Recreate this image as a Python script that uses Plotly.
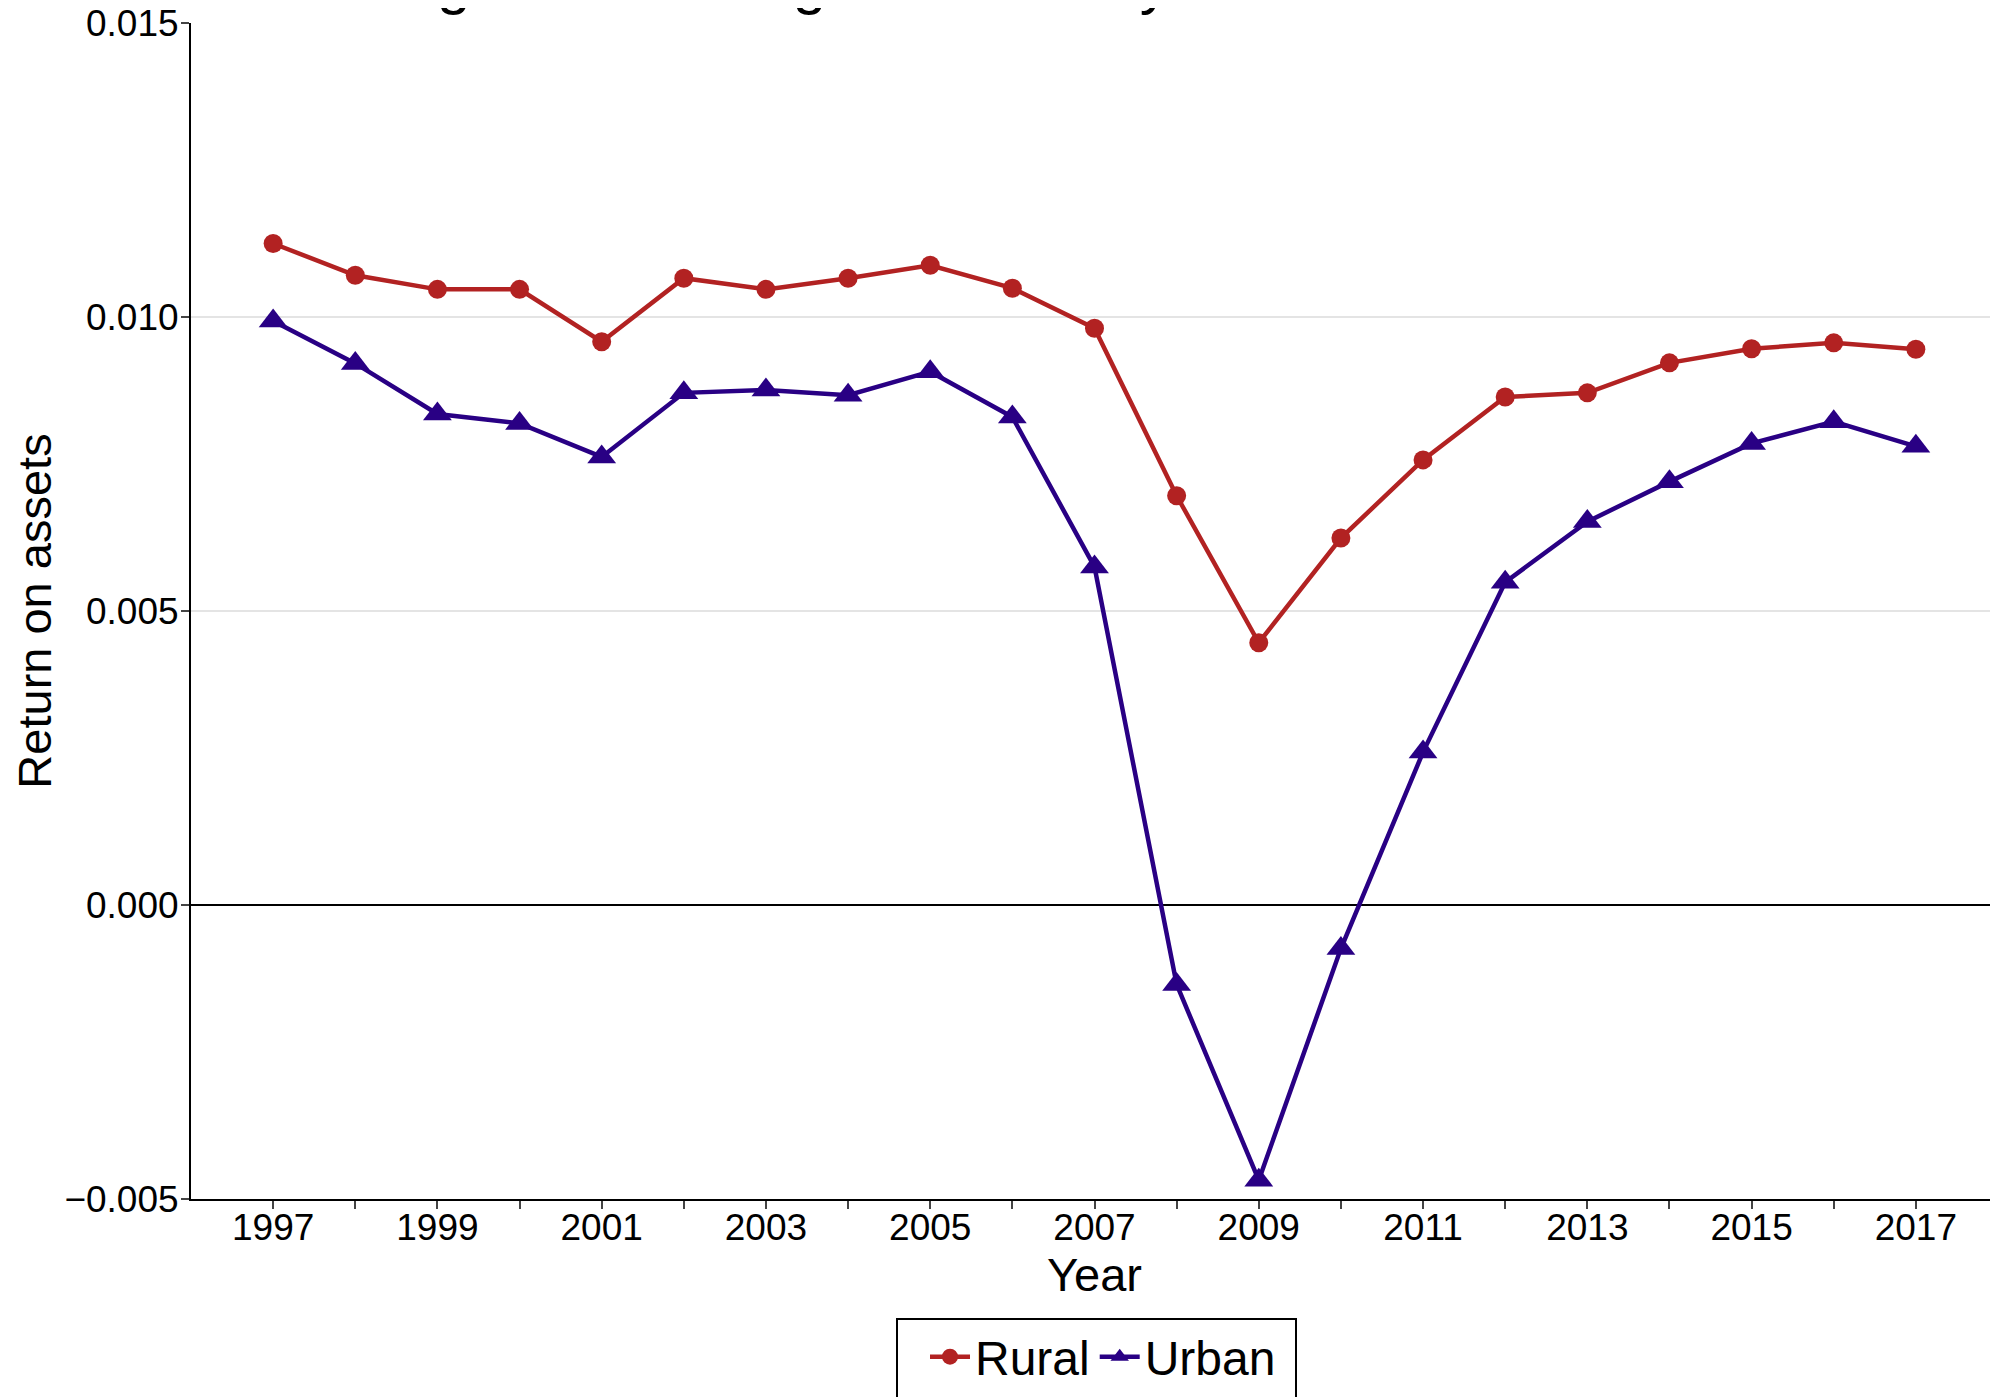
import plotly.graph_objects as go

years = list(range(1997, 2018))
rural = [0.01125, 0.01071, 0.01047, 0.01047, 0.00958, 0.01066, 0.01047, 0.01066, 0.01088, 0.01049,
         0.00981, 0.00696, 0.00446, 0.00624, 0.00757, 0.00864, 0.00871, 0.00922, 0.00946, 0.00956, 0.00945]
urban = [0.00993, 0.00921, 0.00835, 0.00819, 0.00762, 0.00871, 0.00876, 0.00867, 0.00907, 0.00830,
         0.00575, -0.00135, -0.00468, -0.00074, 0.00260, 0.00549, 0.00652, 0.00720, 0.00785, 0.00822, 0.00780]
x_tick_labels = [str(y) if y % 2 == 1 else "" for y in years]
y_ticks = [-0.005, 0.0, 0.005, 0.010, 0.015]

title_text = "Figure 3: Average Profitability: Return on Total Assets"
FONT = "Liberation Sans, Arial, Helvetica, sans-serif"

# page body adds an 8px offset; figure sized so it ends exactly at the window edges
W, H = 1990, 1389
ML, MT, MB = 183, 15, 198
PW, PH = W - ML, H - MT - MB


def px_to_paper_x(px):
    return (px - ML) / PW


def px_to_paper_y(py):
    return 1 - (py - MT) / PH


fig = go.Figure()
fig.add_trace(go.Scatter(
    x=years, y=rural, name="Rural", mode="lines+markers",
    line=dict(color="#b22222", width=4.5),
    marker=dict(symbol="circle", size=19, color="#b22222"),
))
fig.add_trace(go.Scatter(
    x=years, y=urban, name="Urban", mode="lines+markers",
    line=dict(color="#290084", width=4.5),
    marker=dict(symbol="triangle-up", size=25, color="#290084"),
))

legend_top = px_to_paper_y(1311)
fig.update_layout(
    width=W, height=H,
    margin=dict(l=ML, r=0, t=MT, b=MB, pad=0, autoexpand=False),
    paper_bgcolor="white", plot_bgcolor="white",
    font=dict(family=FONT, color="black", size=37),
    showlegend=True,
    legend=dict(orientation="h", x=px_to_paper_x(917), xanchor="left",
                y=legend_top, yanchor="top",
                borderwidth=0, bgcolor="rgba(0,0,0,0)",
                itemwidth=40,
                font=dict(size=48, family=FONT)),
    shapes=[dict(type="rect", xref="paper", yref="paper",
                 x0=px_to_paper_x(889), x1=px_to_paper_x(1288),
                 y0=px_to_paper_y(1420), y1=legend_top,
                 line=dict(color="black", width=2), fillcolor="white", layer="above")],
    annotations=[dict(text=title_text, xref="paper", yref="paper", x=0.5, y=1,
                      xanchor="center", yanchor="middle", yshift=41, showarrow=False,
                      font=dict(size=60, family=FONT, color="black"))],
)
fig.update_xaxes(
    range=[1996, 2018], tickmode="array", tickvals=years, ticktext=x_tick_labels,
    ticks="outside", ticklen=8, tickwidth=2, tickcolor="#444",
    ticklabelstandoff=-13, ticklabeloverflow="allow", automargin=False,
    showline=True, linecolor="black", linewidth=2,
    showgrid=False, zeroline=False,
    tickfont=dict(size=37),
    title=dict(text="Year", font=dict(size=47), standoff=2),
)
fig.update_yaxes(
    range=[-0.005, 0.015], tickmode="array", tickvals=y_ticks, tickformat=".3f",
    ticks="outside", ticklen=8, tickwidth=2, tickcolor="#444",
    ticklabelstandoff=-5, ticklabeloverflow="allow", automargin=False,
    showline=True, linecolor="black", linewidth=2,
    showgrid=True, gridcolor="#e4e4e4", gridwidth=2,
    zeroline=True, zerolinecolor="black", zerolinewidth=2,
    tickfont=dict(size=37),
    title=dict(text="Return on assets", font=dict(size=47), standoff=25),
)

fig.write_html("out.html")
